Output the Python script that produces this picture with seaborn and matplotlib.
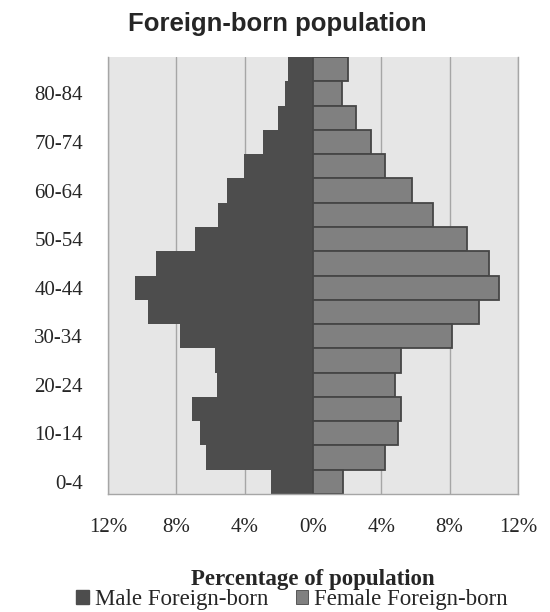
import matplotlib
matplotlib.use("Agg")
import matplotlib.pyplot as plt
from matplotlib.patches import Patch
import pandas as pd
import seaborn as sns

# Age groups, youngest first
ages = ["0-4", "5-9", "10-14", "15-19", "20-24", "25-29", "30-34", "35-39",
        "40-44", "45-49", "50-54", "55-59", "60-64", "65-69", "70-74",
        "75-79", "80-84", "85+"]

# Share of the foreign-born population (%) in each age group
male = [2.44, 6.28, 6.60, 7.10, 5.60, 5.76, 7.77, 9.64, 10.40,
        9.19, 6.93, 5.54, 5.05, 4.02, 2.91, 2.07, 1.62, 1.48]
female = [1.73, 4.19, 4.96, 5.18, 4.81, 5.18, 8.11, 9.69, 10.90,
          10.29, 9.00, 7.00, 5.78, 4.20, 3.38, 2.49, 1.71, 2.06]

x_ticks = [-12, -8, -4, 0, 4, 8, 12]
x_tick_labels = ["12%", "8%", "4%", "0%", "4%", "8%", "12%"]
series_names = ["Male Foreign-born", "Female Foreign-born"]

df = pd.DataFrame({"age": ages, "male": male, "female": female})
df["male_left"] = -df["male"]

sns.set_style("white")
serif = ["Liberation Serif", "DejaVu Serif"]
sans = ["Liberation Sans", "DejaVu Sans"]

male_color = "#4d4d4d"
female_color = "#808080"
female_edge = "#464646"
grid_color = "#a6a6a6"

fig = plt.figure(figsize=(5.5, 6.12), dpi=100)
ax = fig.add_axes([108 / 550, 1 - 494 / 612, 410 / 550, 437 / 612])
ax.set_facecolor("#e6e6e6")

order = ages[::-1]  # oldest group on top
sns.barplot(data=df, x="male_left", y="age", order=order, color=male_color,
            width=1.0, saturation=1, linewidth=0, ax=ax)
sns.barplot(data=df, x="female", y="age", order=order, color=female_color,
            width=1.0, saturation=1, edgecolor=female_edge, linewidth=1.3,
            ax=ax)

ax.set_xlim(-12, 12)
ax.set_axisbelow(True)
ax.xaxis.grid(True, color=grid_color, linewidth=1.0)
ax.yaxis.grid(False)

ax.set_xticks(x_ticks)
ax.set_xticklabels(x_tick_labels, fontfamily=serif, fontsize=15)
ax.tick_params(axis="x", direction="out", length=8, width=1,
               color=grid_color, pad=9)

# Only every other age group is labelled
ylabels = [a if i % 2 == 1 else "" for i, a in enumerate(order)]
ax.set_yticks(range(len(order)))
ax.set_yticklabels(ylabels, fontfamily=serif, fontsize=15)
ax.tick_params(axis="y", length=0, pad=18)

ax.set_xlabel("")
ax.set_ylabel("")

for side in ["left", "right", "bottom"]:
    ax.spines[side].set_visible(True)
    ax.spines[side].set_color(grid_color)
    ax.spines[side].set_linewidth(1.0)
ax.spines["top"].set_visible(False)

fig.text(277 / 550, 1 - 24 / 612, "Foreign-born population",
         ha="center", va="center", fontfamily=sans, fontweight="bold",
         fontsize=18.5)

fig.text(313 / 550, 1 - 580 / 612, "Percentage of population",
         ha="center", va="center", fontfamily=serif, fontweight="bold",
         fontsize=16.5)

handles = [Patch(facecolor=male_color, edgecolor=male_color),
           Patch(facecolor=female_color, edgecolor=female_edge, linewidth=0.6)]
fig.legend(handles, series_names, loc="center",
           bbox_to_anchor=(292 / 550, 1 - 600 / 612), ncol=2, frameon=False,
           prop={"family": serif, "size": 16.5}, handlelength=0.55,
           handleheight=0.55, handletextpad=0.25, columnspacing=1.2,
           borderpad=0, borderaxespad=0)

fig.savefig("out.png", dpi=100)
